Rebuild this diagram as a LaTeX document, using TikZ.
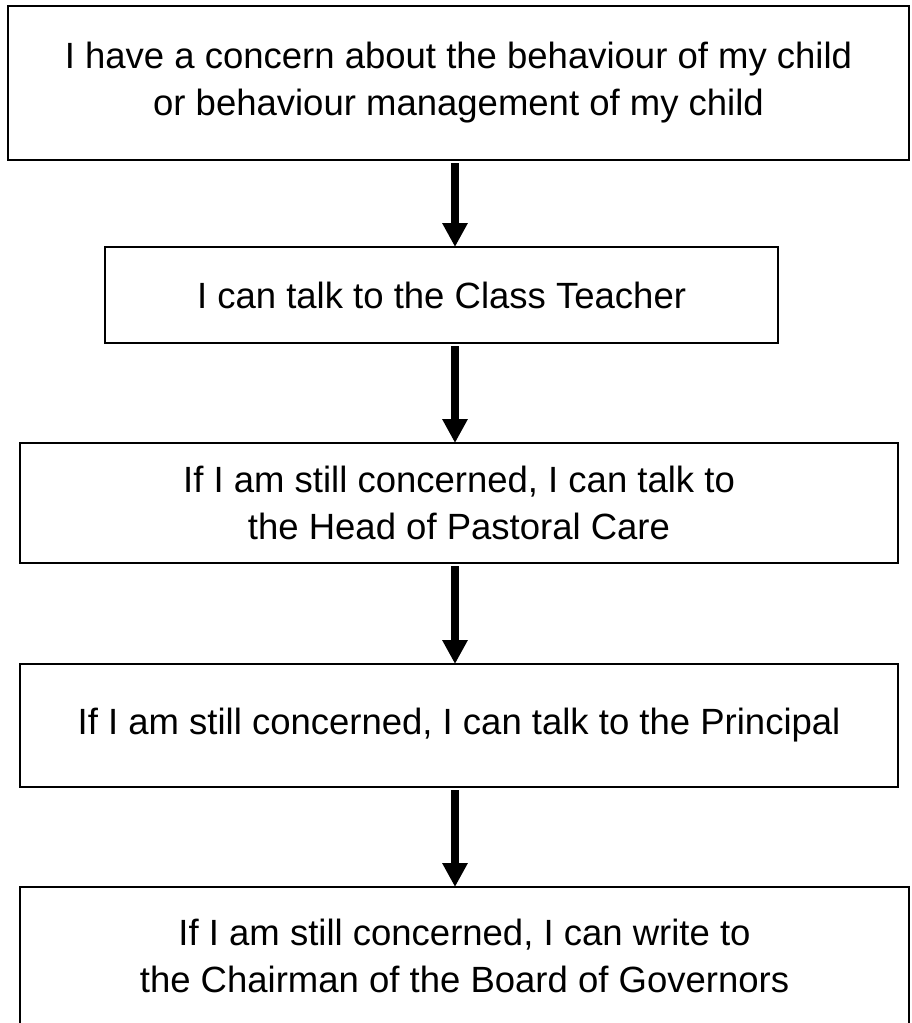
\documentclass[tikz,border=0pt]{standalone}
\usepackage{fontspec}
\setmainfont{Liberation Sans}
\usetikzlibrary{positioning}
\usetikzlibrary{arrows.meta}

\begin{document}
\begin{tikzpicture}[box/.style={draw,line width=1.25pt,outer sep=0pt,align=center,
  font=\fontsize{18.25}{23.5}\selectfont},
  flow/.style={-{Triangle[width=12pt,length=12pt]},line width=3.75pt,shorten <=1.5pt}]
\useasboundingbox (0,0) rectangle (455.5pt,-511.5pt);
\coordinate (ax) at (227.5pt,0);
\node[box,minimum width=450.5pt,minimum height=77pt] (concern) at (229.25pt,-41.5pt)
{I have a concern about the behaviour of my child \\ or behaviour management of my child};
\node[box,minimum width=336.5pt,minimum height=48pt,below=43.5pt of concern,xshift=-8.5pt]
(teacher) {I can talk to the Class Teacher};
\node[box,minimum width=439pt,minimum height=60pt,below=50pt of teacher,xshift=8.75pt]
(pastoral) {If I am still concerned, I can talk to \\ the Head of Pastoral Care};
\node[box,minimum width=439pt,minimum height=61.5pt,below=50.5pt of pastoral]
(principal) {If I am still concerned, I can talk to the Principal};
\node[box,minimum width=444.5pt,minimum height=69pt,below=50pt of principal,xshift=2.75pt]
(governors) {If I am still concerned, I can write to \\ the Chairman of the Board of Governors};
\draw[flow] (concern.south -| ax) -- (teacher.north -| ax);
\draw[flow] (teacher.south -| ax) -- (pastoral.north -| ax);
\draw[flow] (pastoral.south -| ax) -- (principal.north -| ax);
\draw[flow] (principal.south -| ax) -- (governors.north -| ax);
\end{tikzpicture}
\end{document}
